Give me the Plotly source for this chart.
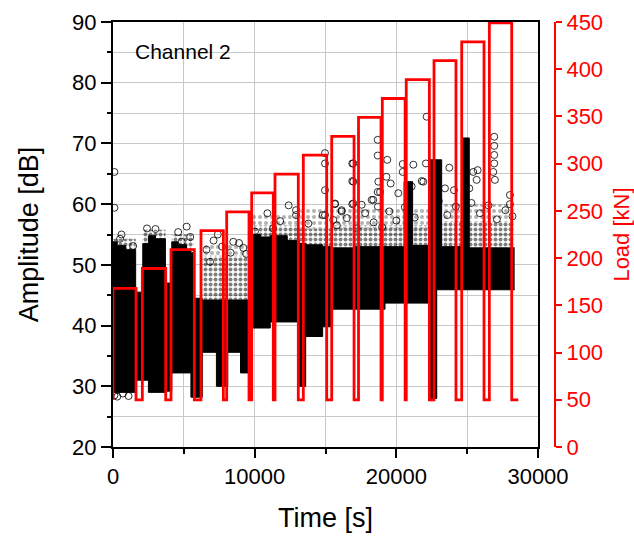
import plotly.graph_objects as go

# ---- load history (red, right axis) ----
load_rise = [0, 2070, 4094, 6212, 8025, 9790, 11435, 13435, 15438, 17330,
             19010, 20700, 22660, 24615, 26565]
load_fall = [1624, 3720, 5740, 7790, 9600, 11315, 13080, 15085, 17015, 18920,
             20620, 22330, 24210, 26190, 28145]
load_peak = [168, 189, 209, 229, 249, 269, 289, 309, 329, 349,
             369, 389, 409, 429, 449]
load_base = 50
load_end = 28610

# ---- dense band of AE hits: time span [s], lower / upper amplitude [dB] ----
band_t0 = [0, 300, 900, 1600, 2100, 2500, 3000, 3700, 4150, 4600, 5200, 5500,
           5750, 6300, 7300, 8100, 9000, 9750, 10400, 11100, 12300, 13150,
           13600, 14800, 15500, 17000, 19200, 20550, 21150, 22300, 22850,
           23200, 24600, 25150]
band_t1 = [300, 900, 1600, 2100, 2500, 3000, 3700, 4150, 4600, 5200, 5500, 5750,
           6300, 7300, 8100, 9000, 9750, 10400, 11100, 12300, 13150, 13600,
           14800, 15500, 17000, 19200, 20550, 21150, 22300, 22850, 23200,
           24600, 25150, 28350]
band_lo = [29.0, 29.0, 29.0, 31.0, 31.0, 29.0, 29.0, 29.2, 32.2, 32.2, 32.2, 28.2,
           28.2, 35.6, 30.0, 35.6, 32.2, 39.6, 39.6, 40.6, 40.6, 30.0,
           38.2, 39.8, 42.7, 42.7, 43.7, 43.7, 43.7, 28.0, 45.9,
           45.9, 45.9, 45.9]
band_hi = [53.8, 53.2, 52.5, 45.5, 53.5, 54.8, 54.3, 47.0, 53.8, 53.3, 52.5, 52.0,
           44.5, 44.2, 44.2, 44.2, 44.2, 55.0, 54.6, 54.8, 54.0, 53.5,
           53.3, 53.0, 52.8, 53.0, 53.0, 63.7, 53.2, 67.3, 67.3,
           53.0, 70.9, 52.8]

# ---- closely spaced hits just around the band ----
near_t0 = [0, 2100, 4150, 6300, 9750, 13150, 15500, 21150, 23200, 25150]
near_t1 = [1600, 3700, 5700, 9750, 13150, 15500, 20550, 22300, 24600, 28300]
near_lo = [52.5, 53.5, 52.5, 44.2, 54.0, 53.0, 52.8, 53.0, 53.0, 52.8]
near_hi = [54.3, 55.8, 55.0, 51.5, 56.5, 56.0, 56.5, 56.5, 57.0, 57.0]

# ---- scattered hits further out ----
far_t0 = [6300, 9750, 13150, 23200]
far_t1 = [9750, 13150, 22300, 28300]
far_lo = [51.5, 56.5, 56.0, 57.0]
far_hi = [53.5, 58.5, 59.5, 60.0]

# ---- isolated hits ----
hit_t = [100, 100, 12920, 12920, 13790, 14800, 15550, 16500, 16960, 10020, 11300,
         8490, 6850, 4850, 5450, 1420,
         14965, 14965, 14965, 14965, 15670, 16140, 16890, 16890, 16890, 17555,
         18260, 18685, 18685, 18685, 18700,
         19300, 19360, 19600, 18850, 22140, 20450, 21200, 22090, 21790, 20450,
         23740, 25430, 25740, 25150, 26910, 26910, 26910, 26910, 26840, 26960,
         28020, 28020, 18370, 18730, 20140, 21080, 21900, 23430, 24070, 25670,
         16140, 15670, 16960, 16960,
         15800, 17200, 17800, 18400, 19000, 19500, 20000, 20600, 21300, 22500,
         23000, 23600, 24200, 24800, 25300, 25900, 26500, 27100, 27700, 28200,
         500, 2400, 3000, 4600, 5200, 7400, 9200, 10900, 11800, 12400,
         100, 300, 700, 1100, 600, 6600, 7100, 7700, 8300, 8900, 9400]
hit_amp = [65.3, 59.4, 59.0, 58.2, 56.8, 58.2, 57.4, 57.7, 60.1, 55.5, 56.0,
           53.8, 50.5, 53.8, 54.6, 53.1,
           68.4, 66.7, 62.3, 58.2, 60.0, 58.8, 66.7, 63.8, 60.0, 59.9,
           60.7, 70.6, 68.0, 62.0, 59.6,
           64.5, 67.3, 63.4, 62.0, 74.4, 66.6, 66.5, 66.7, 63.8, 65.3,
           66.0, 65.3, 65.6, 62.6, 71.1, 69.6, 68.1, 66.7, 65.3, 64.0,
           61.5, 60.0, 60.7, 63.7, 61.8, 62.9, 63.7, 62.6, 62.3, 64.0,
           59.0, 60.1, 63.7, 66.7,
           56.5, 56.0, 58.5, 57.0, 56.2, 58.8, 57.3, 59.5, 57.8, 58.0,
           60.5, 58.2, 59.6, 57.0, 60.2, 58.5, 59.8, 57.5, 59.0, 58.0,
           54.3, 56.0, 55.9, 55.4, 56.3, 55.0, 52.8, 58.5, 57.2, 59.8,
           28.5, 28.3, 28.8, 28.4, 55.0, 52.5, 54.0, 53.0, 52.0, 53.6, 51.8]


def step_path(t0, t1, vals):
    xs, ys = [], []
    for a, b, v in zip(t0, t1, vals):
        xs += [a, b]
        ys += [v, v]
    return xs, ys


def rects(t0, t1, lo, hi):
    xs, ys = [], []
    for a, b, l, h in zip(t0, t1, lo, hi):
        xs += [a, b, b, a, a, None]
        ys += [l, l, h, h, l, None]
    return xs, ys


fig = go.Figure()

# scattered hits further out (dotted texture)
fx, fy = rects(far_t0, far_t1, far_lo, far_hi)
fig.add_trace(go.Scatter(x=fx, y=fy, fill="toself", mode="lines",
                         line=dict(width=0), fillcolor="rgba(0,0,0,0)",
                         fillpattern=dict(shape=".", fgcolor="rgba(0,0,0,0.6)",
                                          bgcolor="rgba(0,0,0,0)", size=6,
                                          solidity=0.35),
                         hoverinfo="skip", showlegend=False))

# closely spaced hits around the band
nx, ny = rects(near_t0, near_t1, near_lo, near_hi)
fig.add_trace(go.Scatter(x=nx, y=ny, fill="toself", mode="lines",
                         line=dict(width=0), fillcolor="rgba(0,0,0,0.5)",
                         fillpattern=dict(shape=".", fgcolor="black",
                                          bgcolor="rgba(0,0,0,0)", size=5,
                                          solidity=0.5),
                         hoverinfo="skip", showlegend=False))

# dense band
bx, blo = step_path(band_t0, band_t1, band_lo)
_, bhi = step_path(band_t0, band_t1, band_hi)
fig.add_trace(go.Scatter(x=bx, y=blo, mode="lines", line=dict(width=1, color="black"),
                         hoverinfo="skip", showlegend=False))
fig.add_trace(go.Scatter(x=bx, y=bhi, mode="lines", line=dict(width=1, color="black"),
                         fill="tonexty", fillcolor="black",
                         hoverinfo="skip", showlegend=False))

# isolated hits
fig.add_trace(go.Scatter(x=hit_t, y=hit_amp, mode="markers",
                         marker=dict(symbol="circle-open", size=7,
                                     color="rgba(0,0,0,0.8)", line=dict(width=1)),
                         showlegend=False))

# load steps
lx, ly = [0], [load_base]
for r, f, p in zip(load_rise, load_fall, load_peak):
    lx += [r, r, f, f]
    ly += [load_base, p, p, load_base]
lx.append(load_end)
ly.append(load_base)
fig.add_trace(go.Scatter(x=lx, y=ly, yaxis="y2", mode="lines",
                         line=dict(color="#ff0000", width=2.8),
                         showlegend=False))

font_family = "Liberation Sans, Arial, sans-serif"
plot_w = 634 - 113 - 79

fig.update_layout(
    width=634, height=544,
    margin=dict(l=113, r=79, t=22, b=97, autoexpand=False),
    paper_bgcolor="white", plot_bgcolor="white",
    font=dict(family=font_family, color="black", size=22),
    xaxis=dict(
        domain=[0, 425 / plot_w], range=[0, 30000], automargin=False,
        tickmode="linear", tick0=0, dtick=10000, tickformat="d",
        ticks="outside", ticklen=9, tickwidth=2, tickcolor="black",
        showline=True, linecolor="black", linewidth=2, mirror=True,
        showgrid=True, gridcolor="#c8c8c8", gridwidth=1,
        zeroline=False,
        minor=dict(dtick=5000, ticks="outside", ticklen=5, tickwidth=2,
                   tickcolor="black", showgrid=True, gridcolor="#c8c8c8", gridwidth=1),
        tickfont=dict(size=22),
        title=dict(text="Time [s]", font=dict(size=27), standoff=20),
    ),
    yaxis=dict(
        range=[20, 90], automargin=False,
        tickmode="linear", tick0=20, dtick=10,
        ticks="outside", ticklen=10, tickwidth=2, tickcolor="black",
        showline=True, linecolor="black", linewidth=2, mirror=True,
        showgrid=True, gridcolor="#c8c8c8", gridwidth=1,
        zeroline=False,
        minor=dict(dtick=5, ticks="outside", ticklen=4, tickwidth=2,
                   tickcolor="black", showgrid=True, gridcolor="#c8c8c8", gridwidth=1),
        tickfont=dict(size=22),
        title=dict(text="Amplitude [dB]", font=dict(size=27), standoff=26),
    ),
    yaxis2=dict(
        overlaying="y", anchor="free", position=1, side="right", automargin=False,
        range=[0, 450], tickmode="linear", tick0=0, dtick=50,
        ticks="outside", ticklen=6, tickwidth=2, tickcolor="#ff0000",
        showline=True, linecolor="#ff0000", linewidth=2,
        showgrid=False, zeroline=False,
        tickfont=dict(size=22, color="#ff0000"),
        title=dict(text="Load [kN]", font=dict(size=22, color="#ff0000"), standoff=14),
    ),
    annotations=[dict(text="Channel 2", x=1400, y=85.1, xref="x", yref="y",
                      xanchor="left", yanchor="middle", showarrow=False,
                      font=dict(size=21, color="black"))],
)

fig.write_html("out.html")
